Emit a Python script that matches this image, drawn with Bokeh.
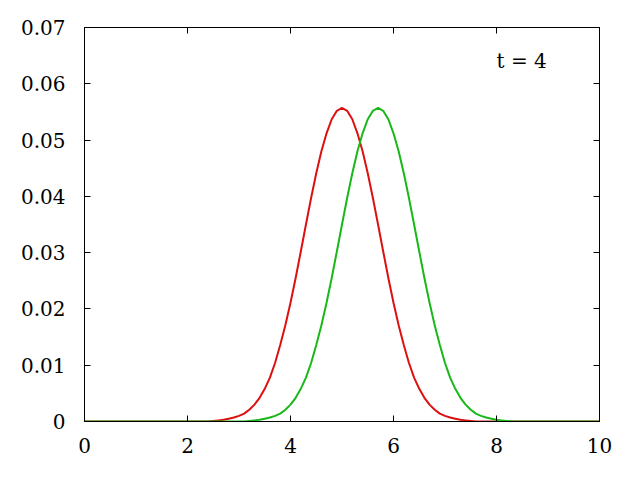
from bokeh.plotting import figure
from bokeh.models import Range1d, FixedTicker, LinearAxis
from bokeh.core.properties import value
from bokeh.embed import file_html
from bokeh.resources import INLINE

# x grid
x = [0.0, 1.0, 2.0, 2.1, 2.2, 2.3, 2.4, 2.5, 2.6, 2.7, 2.8, 2.9,
     3.0, 3.1, 3.2, 3.3, 3.4, 3.5, 3.6, 3.7, 3.8, 3.9,
     4.0, 4.1, 4.2, 4.3, 4.4, 4.5, 4.6, 4.7, 4.8, 4.9,
     5.0, 5.1, 5.2, 5.3, 5.4, 5.5, 5.6, 5.7, 5.8, 5.9,
     6.0, 6.1, 6.2, 6.3, 6.4, 6.5, 6.6, 6.7, 6.8, 6.9,
     7.0, 7.1, 7.2, 7.3, 7.4, 7.5, 7.6, 7.7, 7.8, 7.9,
     8.0, 8.1, 8.2, 8.3, 8.4, 8.5, 8.6, 8.7, 8.8, 8.9,
     9.0, 10.0]

red = [0.0, 0.0, 0.0, 0.0, 0.0, 0.0, 0.0, 0.0001, 0.0002, 0.0003, 0.0005, 0.0007,
       0.0010, 0.0014, 0.0021, 0.0030, 0.0042, 0.0058, 0.0078, 0.0104, 0.0136, 0.0171,
       0.0211, 0.0255, 0.0302, 0.0350, 0.0397, 0.0441, 0.0480, 0.0512, 0.0537, 0.0552,
       0.0557, 0.0552, 0.0537, 0.0512, 0.0480, 0.0441, 0.0397, 0.0350, 0.0302, 0.0255,
       0.0211, 0.0171, 0.0136, 0.0104, 0.0078, 0.0058, 0.0042, 0.0030, 0.0021, 0.0014,
       0.0010, 0.0007, 0.0005, 0.0003, 0.0002, 0.0001, 0.0, 0.0, 0.0, 0.0,
       0.0, 0.0, 0.0, 0.0, 0.0, 0.0, 0.0, 0.0, 0.0, 0.0,
       0.0, 0.0]

green = [0.0, 0.0, 0.0, 0.0, 0.0, 0.0, 0.0, 0.0, 0.0, 0.0, 0.0, 0.0,
         0.0, 0.0, 0.0001, 0.0002, 0.0003, 0.0005, 0.0007, 0.0010, 0.0014, 0.0021,
         0.0030, 0.0042, 0.0058, 0.0078, 0.0104, 0.0136, 0.0171, 0.0211, 0.0255, 0.0302,
         0.0350, 0.0397, 0.0441, 0.0480, 0.0512, 0.0537, 0.0552, 0.0557, 0.0552, 0.0537,
         0.0512, 0.0480, 0.0441, 0.0397, 0.0350, 0.0302, 0.0255, 0.0211, 0.0171, 0.0136,
         0.0104, 0.0078, 0.0058, 0.0042, 0.0030, 0.0021, 0.0014, 0.0010, 0.0007, 0.0005,
         0.0003, 0.0002, 0.0001, 0.0, 0.0, 0.0, 0.0, 0.0, 0.0, 0.0,
         0.0, 0.0]

x_ticks = [0, 2, 4, 6, 8, 10]
y_ticks = [0, 0.01, 0.02, 0.03, 0.04, 0.05, 0.06, 0.07]
y_tick_labels = ["0", "0.01", "0.02", "0.03", "0.04", "0.05", "0.06", "0.07"]
annotation = "t = 4"

FONT = "DejaVu Serif"
FSIZE = "20px"

p = figure(frame_width=515, frame_height=394,
           min_border_left=84, min_border_right=25,
           min_border_top=27, min_border_bottom=43,
           x_range=Range1d(0, 10), y_range=Range1d(0, 0.07),
           output_backend="svg", toolbar_location=None,
           background_fill_color="white", border_fill_color="white")

p.grid.visible = False
p.outline_line_color = "black"
p.outline_line_width = 1

def style_axis(ax, ticks, show_labels):
    ax.ticker = FixedTicker(ticks=ticks)
    ax.minor_tick_line_color = None
    ax.major_tick_in = 6
    ax.major_tick_out = 0
    ax.axis_line_color = "black"
    ax.major_tick_line_color = "black"
    ax.major_label_text_font = FONT
    ax.major_label_text_font_size = FSIZE
    if show_labels:
        ax.major_label_text_color = "black"
    else:
        ax.major_label_text_color = None
        ax.major_label_standoff = 0

style_axis(p.xaxis[0], x_ticks, True)
p.xaxis[0].major_label_standoff = 16
style_axis(p.yaxis[0], y_ticks, True)
p.yaxis[0].major_label_standoff = 19
p.yaxis[0].major_label_overrides = {t: l for t, l in zip(y_ticks, y_tick_labels)}

top = LinearAxis()
style_axis(top, x_ticks, False)
p.add_layout(top, "above")
right = LinearAxis()
style_axis(right, y_ticks, False)
p.add_layout(right, "right")

p.line(x, red, line_color="#dd1010", line_width=2)
p.line(x, green, line_color="#18b818", line_width=2)

p.text(x=[8.0], y=[0.0641], text=[annotation], text_font=value(FONT),
       text_font_size=FSIZE, text_color="black",
       text_align="left", text_baseline="alphabetic")

with open("out.html", "w") as f:
    f.write(file_html(p, INLINE))
